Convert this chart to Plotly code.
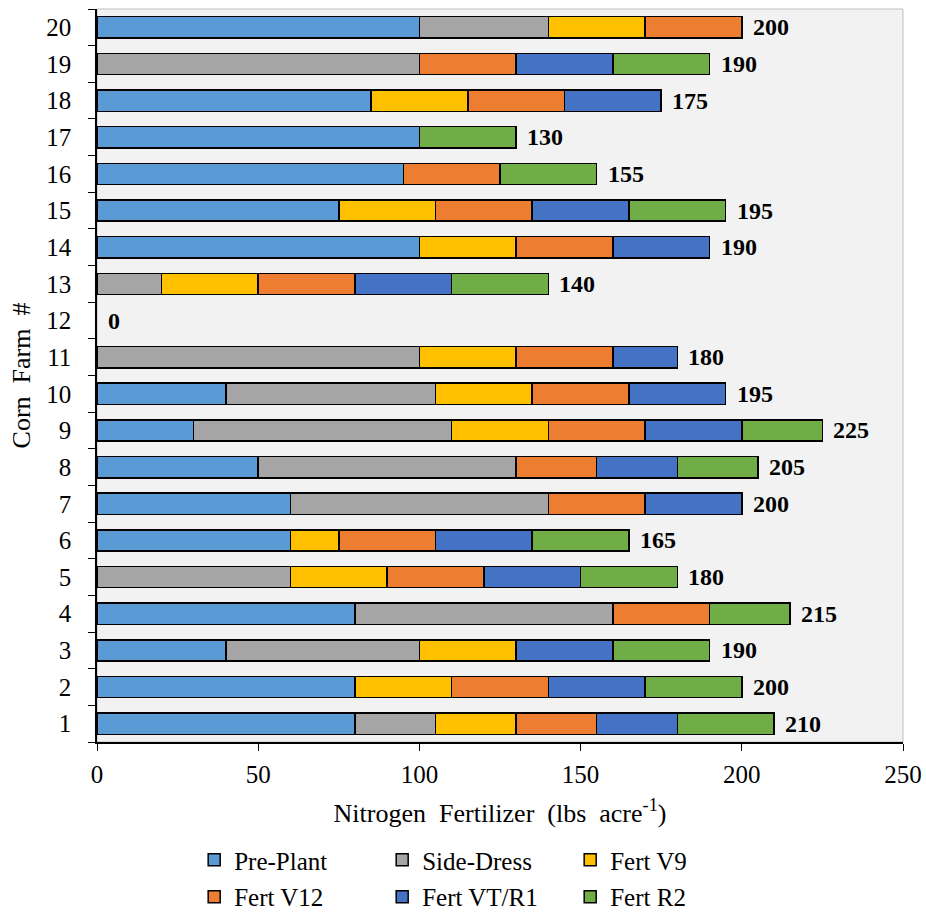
import plotly.graph_objects as go

# Farms 1..20 and the nitrogen applied (lbs/acre) at each timing
farms = [str(i) for i in range(1, 21)]
pre_plant = [80, 80, 40, 80, 0, 60, 60, 50, 30, 40, 0, 0, 0, 100, 75, 95, 100, 85, 0, 100]
side_dress = [25, 0, 60, 80, 60, 0, 80, 80, 80, 65, 100, 0, 20, 0, 0, 0, 0, 0, 100, 40]
fert_v9 = [25, 30, 30, 0, 30, 15, 0, 0, 30, 30, 30, 0, 30, 30, 30, 0, 0, 30, 0, 30]
fert_v12 = [25, 30, 0, 30, 30, 30, 30, 25, 30, 30, 30, 0, 30, 30, 30, 30, 0, 30, 30, 30]
fert_vt_r1 = [25, 30, 30, 0, 30, 30, 30, 25, 30, 30, 20, 0, 30, 30, 30, 0, 0, 30, 30, 0]
fert_r2 = [30, 30, 30, 25, 30, 30, 0, 25, 25, 0, 0, 0, 30, 0, 30, 30, 30, 0, 30, 0]

series = [
    ("Pre-Plant", pre_plant, "#5B9BD5"),
    ("Side-Dress", side_dress, "#A5A5A5"),
    ("Fert V9", fert_v9, "#FFC000"),
    ("Fert V12", fert_v12, "#ED7D31"),
    ("Fert VT/R1", fert_vt_r1, "#4472C4"),
    ("Fert R2", fert_r2, "#70AD47"),
]

FONT = "Times New Roman"
SP = "\u00a0"  # extra word spacing in the axis titles

fig = go.Figure()
for i, (name, vals, color) in enumerate(series):
    fig.add_trace(go.Bar(
        x=[v if v else None for v in vals],
        y=farms,
        orientation="h",
        name=name,
        legend="legend" if i < 3 else "legend2",
        marker=dict(color=color, line=dict(color="#000000", width=1.5)),
    ))

# total labels at the end of each stacked bar (y given as category index)
totals = [sum(s[1][i] for s in series) for i in range(len(farms))]
annotations = [
    dict(x=t, y=idx, xref="x", yref="y", text=f"<b>{t}</b>", showarrow=False,
         xanchor="left", yanchor="middle", xshift=9,
         font=dict(family=FONT, size=24, color="#000000"))
    for idx, t in enumerate(totals)
]

legend_common = dict(
    orientation="h",
    xref="container",
    yref="container",
    xanchor="left",
    yanchor="middle",
    entrywidth=143,
    entrywidthmode="pixels",
    font=dict(family=FONT, size=25, color="#000000"),
    traceorder="normal",
    itemclick=False,
    bgcolor="rgba(0,0,0,0)",
)

fig.update_layout(
    width=926,
    height=914,
    barmode="stack",
    bargap=0.42,
    paper_bgcolor="#FFFFFF",
    plot_bgcolor="#F2F2F2",
    margin=dict(l=97, r=23, t=9, b=172, autoexpand=False),
    font=dict(family=FONT, size=24, color="#000000"),
    xaxis=dict(
        range=[0, 250],
        dtick=50,
        showgrid=False,
        zeroline=False,
        showline=True,
        linecolor="#000000",
        linewidth=1.5,
        ticks="outside",
        ticklen=7,
        tickcolor="#000000",
        ticklabelstandoff=2,
        tickfont=dict(family=FONT, size=25),
        title=dict(text=f"Nitrogen{SP} Fertilizer{SP} (lbs{SP} acre<sup>-1</sup>)",
                   font=dict(family=FONT, size=26), standoff=17),
    ),
    yaxis=dict(
        type="category",
        categoryorder="array",
        categoryarray=farms,
        range=[-0.5, 19.5],
        tickson="boundaries",
        showgrid=False,
        showline=True,
        linecolor="#000000",
        linewidth=1.5,
        ticks="outside",
        ticklen=7,
        tickcolor="#000000",
        ticklabelstandoff=19,
        tickfont=dict(family=FONT, size=25),
        title=dict(text=f"Corn{SP} Farm{SP} #", font=dict(family=FONT, size=26), standoff=8),
    ),
    legend=dict(legend_common, x=0.2097, y=0.059),
    legend2=dict(legend_common, x=0.2097, y=0.0186),
    annotations=annotations,
    shapes=[dict(
        type="rect", xref="paper", yref="paper", x0=0, x1=1, y0=0, y1=1,
        line=dict(color="#BFBFBF", width=1), layer="below",
    )],
)

fig.write_html("out.html")
